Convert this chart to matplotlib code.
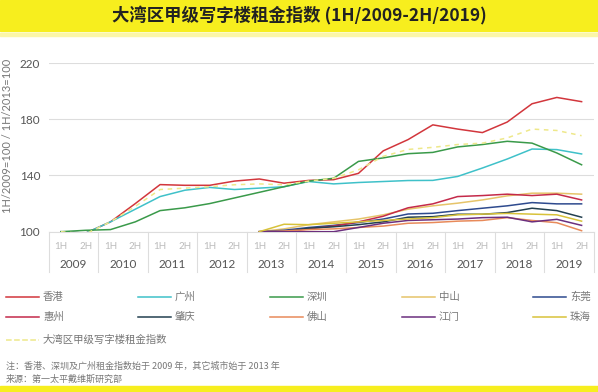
import matplotlib
matplotlib.use('Agg')
import matplotlib.pyplot as plt
from matplotlib.lines import Line2D
from matplotlib.patches import Rectangle
import matplotlib.transforms as mtransforms

plt.rcParams['font.family'] = ['Noto Sans CJK SC', 'DejaVu Sans']

years = ['2009', '2010', '2011', '2012', '2013', '2014', '2015',
         '2016', '2017', '2018', '2019']
halves = ['1H', '2H']

# 1H/2009 .. 2H/2019 (22 points)
hong_kong = [100, 99, 107, 120, 133.5, 133, 133, 136, 137.5, 134.5, 136.5,
             137, 141.5, 157.5, 165.5, 176, 173, 170.5, 178, 191, 195.5, 192.5]
guangzhou = [100, 99, 107, 116, 125, 129.5, 131.5, 130, 131, 132, 135.7,
             134, 135, 135.7, 136.4, 136.5, 139.3, 145.3, 151.7, 158.8, 158.4, 155.3]
shenzhen = [100, 101, 101.5, 107, 115, 117, 120, 124, 128, 132, 136,
            138, 150, 152.5, 155.5, 156.4, 160.3, 162, 164.3, 163, 156, 147.6]
gba_index = [100, 98.5, 107, 118, 130, 131, 132, 133.4, 134, 133.4, 136,
             138, 144, 153.6, 158.5, 160, 162, 163, 166.7, 173, 172, 168.3]

# 1H/2013 .. 2H/2019 (14 points)
zhongshan = [100, 102, 105, 107, 109, 112, 116, 118.4, 120.3, 122.6, 125.5, 127.4, 127.4, 126.7]
dongguan = [100, 101, 103, 104.5, 106.5, 109, 112.6, 113.1, 115, 116.7, 118.4, 120.7, 119.8, 119.8]
huizhou = [100, 100, 102, 104, 107, 111, 117, 119.8, 125, 125.7, 126.7, 125.7, 126.7, 122.6]
zhaoqing = [100, 100, 102.5, 103.5, 105, 107, 110.3, 110.7, 112.4, 112.4, 113.6, 116.7, 115, 110.3]
foshan = [100, 100.5, 101.5, 102, 103, 104, 106, 106.5, 107.5, 108, 110, 108, 106.4, 100.7]
jiangmen = [100, 100, 100, 100, 103, 106, 108, 108.5, 109, 110, 110.3, 107, 108.8, 104.5]
zhuhai = [100, 105.3, 105, 106, 107, 108, 109, 110, 112, 112.5, 113, 112.5, 112, 107.5]

series = [
    ('香港', hong_kong, '#d2363c', '-'),
    ('广州', guangzhou, '#3fc1c9', '-'),
    ('深圳', shenzhen, '#3a9a4a', '-'),
    ('中山', zhongshan, '#e6c46a', '-'),
    ('东莞', dongguan, '#2e4a8e', '-'),
    ('惠州', huizhou, '#c42a4a', '-'),
    ('肇庆', zhaoqing, '#23404f', '-'),
    ('佛山', foshan, '#e88a5a', '-'),
    ('江门', jiangmen, '#6b2f7e', '-'),
    ('珠海', zhuhai, '#d8c23a', '-'),
    ('大湾区甲级写字楼租金指数', gba_index, '#eee88a', '--'),
]

fig = plt.figure(figsize=(5.98, 3.92), dpi=100)
W, H = 598, 392

# title banner
fig.add_artist(Rectangle((0, 1 - 31 / H), 1, 31 / H, transform=fig.transFigure,
                         color='#f7ee1e', zorder=0))
fig.add_artist(Rectangle((0, 1 - 36 / H), 1, 3 / H, transform=fig.transFigure,
                         color='#fbf6a8', zorder=0))
fig.add_artist(Rectangle((0, 0), 1, 6 / H, transform=fig.transFigure,
                         color='#f7ee1e', zorder=0))
fig.text(0.5, 1 - 16 / H, '大湾区甲级写字楼租金指数 (1H/2009-2H/2019)',
         ha='center', va='center', fontsize=12.5, fontweight='bold', color='#222222')

ax = fig.add_axes([48.5 / W, 1 - 231.7 / H, (594 - 48.5) / W, (231.7 - 63) / H])
n = len(years) * 2
for name, vals, color, ls in series:
    start = n - len(vals)
    xs = list(range(start, n))
    ax.plot(xs, vals, color=color, lw=1.1, ls=ls, zorder=3 if ls == '-' else 4,
            dashes=(3, 3) if ls == '--' else (None, None))

ax.set_xlim(-0.5, n - 0.5)
ax.set_ylim(100, 220)
ax.set_yticks([100, 140, 180, 220])
ax.set_yticklabels(['100', '140', '180', '220'], fontsize=8.5, color='#555555',
                   family=['Lato', 'DejaVu Sans'])
ax.tick_params(axis='y', length=0, pad=6)
ax.grid(axis='y', color='#dddddd', lw=0.8)
ax.set_axisbelow(True)
for s in ['top', 'right', 'left']:
    ax.spines[s].set_visible(False)
ax.spines['bottom'].set_color('#dddddd')
ax.spines['bottom'].set_linewidth(0.8)
ax.set_xticks([])

trans = mtransforms.blended_transform_factory(ax.transData, ax.transAxes)
for k in range(len(years) + 1):
    ax.plot([2 * k - 0.5, 2 * k - 0.5], [0, -0.24], transform=trans,
            color='#dddddd', lw=0.8, clip_on=False)
for i, yr in enumerate(years):
    for j, h in enumerate(halves):
        ax.text(2 * i + j, -0.09, h, transform=trans, ha='center', va='center',
                fontsize=7, color='#bbbbbb', family=['Lato', 'DejaVu Sans'])
    ax.text(2 * i + 0.5, -0.197, yr, transform=trans, ha='center', va='center',
            fontsize=8.5, color='#555555', family=['Lato', 'DejaVu Sans'])

fig.text(8 / W, 1 - 136 / H, '1H/2009=100 / 1H/2013=100', rotation=90,
         ha='center', va='center', fontsize=8, color='#777777',
         family=['Lato', 'DejaVu Sans'])

# legend, row-major
col_x = [6, 138, 270, 402, 533]
row_y = [297, 317, 340]
for idx, (name, vals, color, ls) in enumerate(series):
    r, c = divmod(idx, 5)
    x0 = col_x[c]
    y = 1 - row_y[r] / H
    fig.add_artist(Line2D([x0 / W, (x0 + 33) / W], [y, y], transform=fig.transFigure,
                          color=color, lw=1.1, ls=ls))
    fig.text((x0 + 37) / W, y, name, ha='left', va='center', fontsize=7.5,
             color='#777777')

fig.text(6 / W, 1 - 366 / H, '注：香港、深圳及广州租金指数始于 2009 年，其它城市始于 2013 年',
         ha='left', va='center', fontsize=6.5, color='#777777')
fig.text(6 / W, 1 - 379 / H, '来源：第一太平戴维斯研究部',
         ha='left', va='center', fontsize=6.5, color='#777777')

fig.savefig('out.png', dpi=100)
